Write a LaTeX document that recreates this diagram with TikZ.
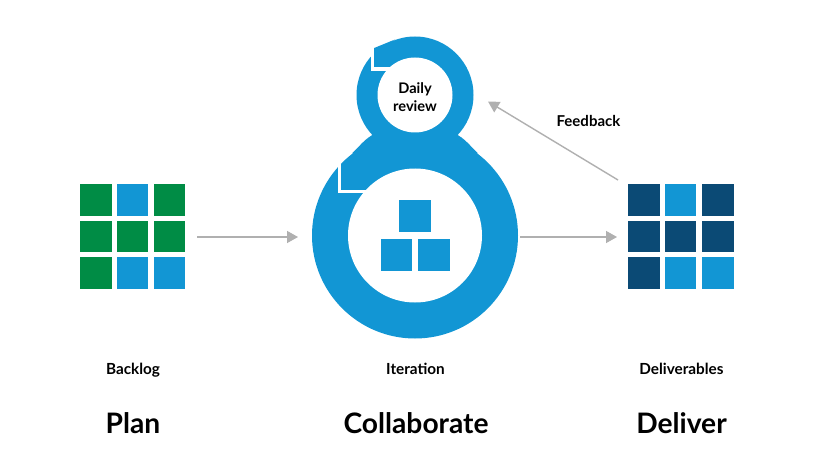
\documentclass[tikz,border=0pt]{standalone}
\usepackage{fontspec}
\setmainfont{Lato}
\usetikzlibrary{arrows.meta}
\definecolor{cblue}{HTML}{1296D4}
\definecolor{cgreen}{HTML}{008C45}
\definecolor{cnavy}{HTML}{0B4A75}
\definecolor{cgray}{HTML}{B0B0B0}
\begin{document}
\begin{tikzpicture}[x=1pt,y=-1pt,
  sq/.style={minimum size=31.5pt,inner sep=0pt,outer sep=0pt,draw=none},
  gapline/.style={draw=white,line width=3.2pt},
  arr/.style={draw=cgray,line width=1.4pt,-{Triangle[length=11pt,width=12pt]}},
  lbl/.style={font=\bfseries\fontsize{15.3}{18}\selectfont,text=black,inner sep=0pt},
  big/.style={font=\bfseries\fontsize{28.2}{31}\selectfont,text=black,inner sep=0pt},
  area/.style={inner sep=0pt,outer sep=0pt,draw=none}]
\useasboundingbox[fill=white] (0,0) rectangle (814,476);
% ---- figure-eight ----
\fill[cblue] (415,235.5) circle[radius=103];
\fill[cblue] (415,95) circle[radius=58.5];
\fill[cblue] (372.3,135) .. controls (366,139) .. (352,153.5) -- (415,153.5) -- (415,135) -- cycle;
\fill[cblue] (457.7,135) .. controls (464,139) .. (478,153.5) -- (415,153.5) -- (415,135) -- cycle;
% flare of small ring head
\fill[cblue] (374.2,54) -- (374.2,48) -- (395,39.5) -- (385,46) -- cycle;
\fill[white] (415,235.5) circle[radius=67];
\fill[white] (415,95) circle[radius=37.5];
\draw[gapline] (372.2,44) -- (372.2,69) -- (391,69);
\draw[gapline] (339.7,160) -- (339.7,191.6) -- (368,191.6);
% nodes
\node[area,circle,minimum size=206pt] (iter) at (415,235.5) {};
\node[area,circle,minimum size=117pt] (daily) at (415,95) {};
\node[lbl,align=center,font=\bfseries\fontsize{14.6}{17.8}\selectfont] (dailytxt) at (415,97) {Daily\\review};
% blocks
\node[sq,fill=cblue] (b1) at (415,216) {};
\node[sq,fill=cblue] (b2) at (396.5,255) {};
\node[sq,fill=cblue] (b3) at (434.2,255) {};
% Plan grid
\node[area,minimum width=106pt,minimum height=104pt] (plan) at (133,236.3) {};
\node[sq,fill=cgreen] at (95.8,200) {};
\node[sq,fill=cblue]  at (132.5,200) {};
\node[sq,fill=cgreen] at (169.7,200) {};
\node[sq,fill=cgreen] at (95.8,236.7) {};
\node[sq,fill=cgreen] at (132.5,236.7) {};
\node[sq,fill=cgreen] at (169.7,236.7) {};
\node[sq,fill=cgreen] at (95.8,273) {};
\node[sq,fill=cblue]  at (132.5,273) {};
\node[sq,fill=cblue]  at (169.7,273) {};
% Deliver grid
\node[area,minimum width=106pt,minimum height=104pt] (deliv) at (681,236.3) {};
\node[sq,fill=cnavy] at (644,200) {};
\node[sq,fill=cblue] at (680.5,200) {};
\node[sq,fill=cnavy] at (718.2,200) {};
\node[sq,fill=cnavy] at (644,236.7) {};
\node[sq,fill=cnavy] at (680.5,236.7) {};
\node[sq,fill=cnavy] at (718.2,236.7) {};
\node[sq,fill=cnavy] at (644,273) {};
\node[sq,fill=cblue] at (680.5,273) {};
\node[sq,fill=cblue] at (718.2,273) {};
% arrows
\draw[arr,shorten <=11pt,shorten >=14pt] (plan.east |- 0,237) -- (iter.west |- 0,237);
\draw[arr,shorten <=2pt,shorten >=11pt] (iter.east |- 0,237) -- (deliv.west |- 0,237);
\coordinate (fbs) at (618,180);
\coordinate (fbe) at (488,101.5);
\draw[arr] (fbs) -- (fbe);
\node[lbl,font=\bfseries\fontsize{15}{18}\selectfont] (fb) at (588.5,121) {Feedback};
% labels
\node[lbl,anchor=base] (backlog) at (133,374.5) {Backlog};
\node[lbl,anchor=base] (iteration) at (415.5,374.5) {Iteration};
\node[lbl,anchor=base] (deliverables) at (681.5,374.5) {Deliverables};
\node[big,anchor=base] (plant) at (133,433) {Plan};
\node[big,anchor=base] (collab) at (416,433) {Collaborate};
\node[big,anchor=base] (delivt) at (681.5,433) {Deliver};
\end{tikzpicture}
\end{document}
